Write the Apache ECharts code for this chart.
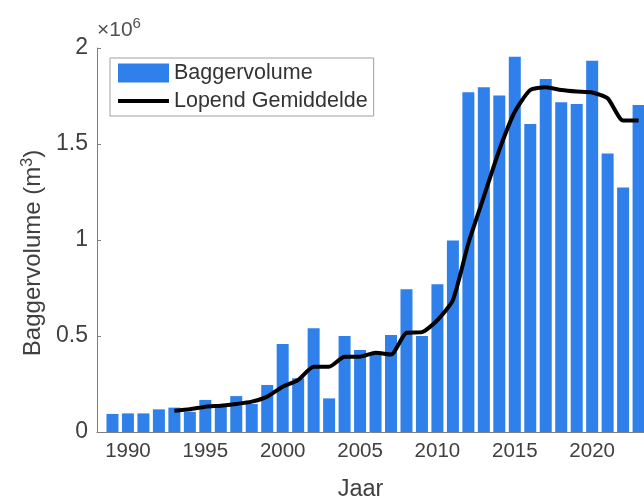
<!DOCTYPE html>
<html>
<head>
<meta charset="utf-8">
<script src="https://cdn.jsdelivr.net/npm/echarts@6/dist/echarts.min.js"></script>
<style>html,body{margin:0;padding:0;background:#fff;}#c{width:644px;height:501px;}</style>
</head>
<body>
<div id="c"></div>
<script>
const years = [1989,1990,1991,1992,1993,1994,1995,1996,1997,1998,1999,2000,2001,2002,2003,2004,2005,2006,2007,2008,2009,2010,2011,2012,2013,2014,2015,2016,2017,2018,2019,2020,2021,2022,2023];
const baggervolume = [94000,97000,97000,118000,127000,105000,167000,140000,187000,146000,245000,458000,280000,540000,175000,500000,427000,415000,505000,743000,500000,769000,997000,1769000,1795000,1753000,1955000,1604000,1839000,1717000,1708000,1934000,1451000,1274000,1703000];
const lopendYears = [1993,1994,1995,1996,1997,1998,1999,2000,2001,2002,2003,2004,2005,2006,2007,2008,2009,2010,2011,2012,2013,2014,2015,2016,2017,2018,2019,2020,2021,2022,2023];
const lopendGemiddelde = [111000,118000,132000,137000,146000,158000,184000,236000,271000,340000,340000,392000,392000,413000,403000,517000,520000,583000,687000,983000,1226000,1469000,1668000,1781000,1795000,1781000,1773000,1768000,1738000,1622000,1622000];
const xTicks = [1990,1995,2000,2005,2010,2015,2020];

const FONT = 'Liberation Sans';
const TXT = '#404040';
const chart = echarts.init(document.getElementById('c'));
chart.setOption({
  animation: false,
  textStyle: {fontFamily: FONT},
  grid: {left: 97, top: 48, bottom: 69, right: 0, containLabel: false, outerBoundsMode: 'none'},
  legend: {
    orient: 'vertical', left: 110, top: 58,
    itemWidth: 51, itemHeight: 19, itemGap: 6,
    padding: [4, 6, 4, 6],
    borderColor: '#a0a0a0', borderWidth: 1, backgroundColor: '#fff',
    textStyle: {fontFamily: FONT, fontSize: 21.5, color: '#333'},
    data: [
      {name: 'Baggervolume', icon: 'rect'},
      {name: 'Lopend Gemiddelde', itemStyle: {color: 'rgba(0,0,0,0)', borderWidth: 0},
        lineStyle: {color: '#000', width: 4}}
    ]
  },
  xAxis: {
    type: 'value', min: 1988, max: 2023.35,
    name: 'Jaar', nameLocation: 'middle', nameGap: 46,
    nameTextStyle: {fontFamily: FONT, fontSize: 23.5, color: TXT, padding: [0, 20, 0, 0]},
    axisLine: {lineStyle: {color: '#808080'}},
    axisTick: {inside: true, length: 4, lineStyle: {color: '#404040'}, customValues: xTicks},
    axisLabel: {fontFamily: FONT, fontSize: 20.5, color: TXT, margin: 9, customValues: xTicks,
      formatter: v => String(v)},
    splitLine: {show: false}
  },
  yAxis: {
    type: 'value', min: 0, max: 2000000, interval: 500000,
    name: 'Baggervolume (m{sup|3})', nameLocation: 'middle', nameGap: 47,
    nameTextStyle: {fontFamily: FONT, fontSize: 24, color: TXT, padding: [0, 26, 0, 0],
      rich: {sup: {fontFamily: FONT, fontSize: 16, color: TXT, padding: [0, 0, 12, 0]}}},
    axisLine: {show: true, lineStyle: {color: '#808080'}},
    axisTick: {show: true, inside: true, length: 4, lineStyle: {color: '#808080'}},
    axisLabel: {fontFamily: FONT, fontSize: 23, color: TXT, margin: 9,
      formatter: v => String(v / 1000000)},
    splitLine: {show: false}
  },
  graphic: [{
    type: 'text', left: 97, top: 16,
    style: {text: '×10{s|6}', fontFamily: FONT, fontSize: 21, fill: '#505050',
      rich: {s: {fontFamily: FONT, fontSize: 15, fill: '#505050', padding: [0, 0, 13, 0]}}}
  }],
  series: [{
    name: 'Baggervolume', type: 'bar', barWidth: 12,
    itemStyle: {color: '#3080ec'},
    data: years.map((y, i) => [y, baggervolume[i]])
  }, {
    name: 'Lopend Gemiddelde', type: 'line', symbol: 'none', smooth: 0.2,
    lineStyle: {color: '#000', width: 4}, itemStyle: {color: '#000'},
    data: lopendYears.map((y, i) => [y, lopendGemiddelde[i]])
  }]
});
</script>
</body>
</html>
